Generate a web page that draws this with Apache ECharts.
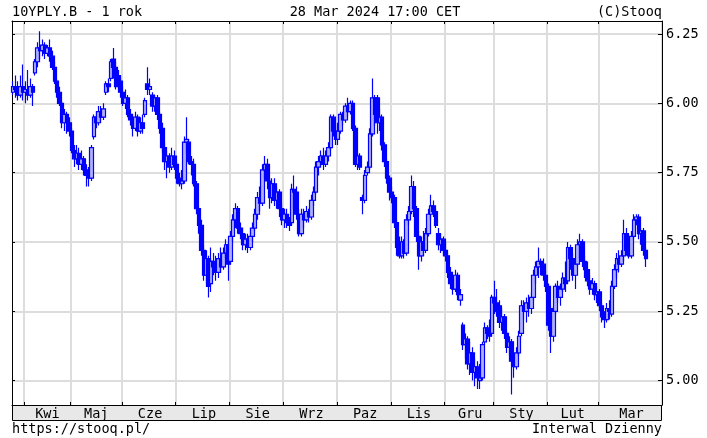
<!DOCTYPE html>
<html><head><meta charset="utf-8">
<script src="https://cdn.jsdelivr.net/npm/echarts@6/dist/echarts.min.js"></script>
<style>html,body{margin:0;padding:0;background:#fff}#c{width:707px;height:438px}</style>
</head><body><div id="c"></div>
<script>
// Daily OHLC of 10YPLY.B, Mar 2023 - Mar 2024
const opens = [
6.04,6.06,6.05,6.03,6.06,6.04,6.05,6.03,6.06,6.11,
6.15,6.20,6.19,6.21,6.18,6.20,6.17,6.13,6.08,6.04,
6.00,5.93,5.96,5.93,5.90,5.83,5.80,5.82,5.78,5.80,
5.76,5.74,5.73,5.88,5.95,5.93,5.97,5.95,6.04,6.07,
6.09,6.16,6.13,6.10,6.08,6.04,6.00,6.02,5.96,5.94,
5.91,5.95,5.90,5.93,5.96,6.07,6.05,6.03,5.99,6.02,
5.96,5.91,5.84,5.79,5.81,5.77,5.81,5.78,5.73,5.71,
5.72,5.86,5.86,5.79,5.78,5.71,5.62,5.56,5.47,5.38,
5.44,5.35,5.43,5.41,5.39,5.44,5.41,5.46,5.49,5.43,
5.52,5.58,5.62,5.55,5.53,5.49,5.51,5.48,5.52,5.55,
5.60,5.66,5.64,5.76,5.78,5.72,5.66,5.71,5.65,5.68,
5.62,5.58,5.60,5.57,5.57,5.69,5.68,5.60,5.53,5.60,
5.58,5.61,5.59,5.65,5.68,5.77,5.79,5.81,5.78,5.81,
5.84,5.95,5.90,5.87,5.90,5.96,5.94,5.99,5.97,6.00,
5.91,5.78,5.81,5.66,5.65,5.75,5.77,5.89,6.02,6.02,
5.93,5.95,5.85,5.79,5.73,5.68,5.66,5.57,5.48,5.45,
5.50,5.46,5.58,5.61,5.70,5.62,5.52,5.45,5.50,5.47,
5.53,5.60,5.63,5.61,5.53,5.49,5.51,5.47,5.45,5.39,
5.35,5.33,5.38,5.29,5.20,5.13,5.15,5.06,5.10,5.03,
5.05,5.00,5.01,5.14,5.19,5.17,5.17,5.30,5.28,5.27,
5.21,5.23,5.17,5.12,5.14,5.07,5.05,5.10,5.17,5.27,
5.25,5.28,5.26,5.30,5.38,5.41,5.43,5.42,5.38,5.34,
5.26,5.16,5.25,5.34,5.30,5.33,5.37,5.36,5.48,5.44,
5.38,5.42,5.49,5.50,5.43,5.40,5.36,5.33,5.35,5.31,
5.32,5.27,5.23,5.22,5.26,5.24,5.34,5.40,5.44,5.42,
5.45,5.53,5.47,5.45,5.52,5.58,5.59,5.53,5.54,5.47
];
const closes = [
6.06,6.05,6.03,6.06,6.04,6.05,6.03,6.06,6.04,6.15,
6.20,6.19,6.21,6.18,6.20,6.17,6.13,6.08,6.04,6.00,
5.93,5.96,5.93,5.90,5.83,5.80,5.82,5.78,5.80,5.76,
5.74,5.73,5.84,5.95,5.93,5.97,5.95,5.98,6.07,6.06,
6.15,6.13,6.06,6.08,6.04,6.00,6.02,5.96,5.94,5.91,
5.95,5.90,5.93,5.91,6.01,6.05,6.06,5.99,6.02,5.96,
5.91,5.84,5.79,5.81,5.77,5.81,5.78,5.73,5.71,5.72,
5.86,5.87,5.79,5.78,5.71,5.62,5.56,5.47,5.38,5.44,
5.34,5.43,5.41,5.39,5.44,5.41,5.46,5.49,5.42,5.52,
5.58,5.62,5.55,5.53,5.49,5.51,5.48,5.52,5.55,5.60,
5.66,5.64,5.76,5.78,5.72,5.66,5.71,5.65,5.68,5.62,
5.58,5.60,5.57,5.56,5.69,5.68,5.60,5.53,5.60,5.58,
5.61,5.59,5.65,5.68,5.77,5.79,5.81,5.78,5.81,5.84,
5.95,5.90,5.87,5.90,5.96,5.94,5.99,5.97,6.00,5.91,
5.78,5.81,5.77,5.65,5.74,5.77,5.89,6.02,5.96,5.93,
5.95,5.85,5.79,5.73,5.68,5.66,5.57,5.48,5.45,5.50,
5.46,5.58,5.61,5.70,5.62,5.52,5.45,5.50,5.47,5.53,
5.60,5.63,5.61,5.56,5.49,5.51,5.47,5.45,5.39,5.35,
5.33,5.38,5.31,5.31,5.13,5.15,5.06,5.10,5.03,5.05,
5.01,5.01,5.13,5.19,5.17,5.16,5.30,5.28,5.25,5.21,
5.23,5.17,5.12,5.14,5.07,5.05,5.10,5.16,5.27,5.25,
5.28,5.26,5.30,5.38,5.41,5.43,5.42,5.38,5.34,5.20,
5.16,5.25,5.34,5.30,5.33,5.37,5.35,5.48,5.44,5.38,
5.42,5.49,5.50,5.43,5.40,5.36,5.33,5.35,5.31,5.32,
5.27,5.23,5.22,5.26,5.25,5.34,5.40,5.44,5.42,5.45,
5.53,5.47,5.45,5.52,5.58,5.59,5.53,5.54,5.47,5.44
];
const lows = [
6.03,6.02,6.01,6.02,6.01,6.00,6.01,6.02,5.99,6.10,
6.13,6.16,6.17,6.16,6.17,6.15,6.12,6.07,6.02,5.99,
5.91,5.90,5.89,5.88,5.82,5.77,5.78,5.76,5.76,5.74,
5.70,5.70,5.72,5.87,5.91,5.92,5.93,5.94,6.03,6.04,
6.08,6.09,6.05,6.05,6.02,5.99,5.98,5.95,5.92,5.88,
5.90,5.88,5.89,5.89,5.95,6.03,6.03,5.97,5.97,5.94,
5.89,5.82,5.76,5.73,5.75,5.76,5.76,5.71,5.70,5.69,
5.71,5.82,5.78,5.74,5.70,5.60,5.53,5.45,5.36,5.35,
5.30,5.32,5.38,5.36,5.37,5.39,5.40,5.44,5.36,5.42,
5.50,5.55,5.53,5.51,5.47,5.47,5.46,5.47,5.50,5.54,
5.58,5.61,5.63,5.73,5.69,5.62,5.64,5.63,5.62,5.59,
5.56,5.55,5.55,5.54,5.56,5.62,5.58,5.52,5.52,5.55,
5.57,5.57,5.58,5.63,5.67,5.74,5.77,5.76,5.77,5.79,
5.83,5.88,5.85,5.85,5.89,5.92,5.93,5.95,5.96,5.90,
5.77,5.76,5.76,5.60,5.64,5.74,5.76,5.88,5.92,5.89,
5.90,5.83,5.77,5.71,5.65,5.64,5.55,5.45,5.44,5.44,
5.44,5.45,5.56,5.60,5.59,5.50,5.40,5.43,5.45,5.46,
5.52,5.58,5.59,5.55,5.47,5.46,5.45,5.43,5.37,5.33,
5.31,5.32,5.29,5.27,5.11,5.08,5.04,5.02,5.00,4.98,
4.97,4.97,5.00,5.13,5.15,5.14,5.16,5.24,5.23,5.19,
5.18,5.15,5.10,5.09,4.95,5.01,5.04,5.09,5.16,5.22,
5.21,5.23,5.24,5.29,5.35,5.37,5.38,5.36,5.32,5.18,
5.10,5.14,5.24,5.28,5.27,5.32,5.32,5.35,5.40,5.36,
5.33,5.41,5.44,5.41,5.37,5.34,5.31,5.31,5.29,5.28,
5.25,5.21,5.19,5.21,5.22,5.23,5.33,5.37,5.39,5.41,
5.43,5.45,5.44,5.44,5.51,5.56,5.51,5.49,5.45,5.41
];
const highs = [
6.08,6.10,6.08,6.10,6.14,6.08,6.12,6.09,6.07,6.16,
6.22,6.26,6.23,6.22,6.21,6.23,6.19,6.15,6.09,6.06,
6.01,5.98,5.97,5.95,5.91,5.85,5.85,5.84,5.83,5.81,
5.78,5.77,5.85,5.96,5.97,5.99,5.99,6.00,6.08,6.09,
6.16,6.20,6.15,6.12,6.09,6.06,6.05,6.03,5.98,5.96,
5.97,5.96,5.95,5.96,6.02,6.13,6.09,6.04,6.03,6.03,
5.97,5.93,5.86,5.83,5.82,5.84,5.83,5.79,5.75,5.76,
5.88,5.95,5.87,5.81,5.80,5.72,5.63,5.58,5.49,5.47,
5.45,5.48,5.46,5.45,5.46,5.48,5.48,5.51,5.50,5.54,
5.60,5.64,5.63,5.57,5.55,5.53,5.53,5.55,5.57,5.62,
5.68,5.70,5.78,5.81,5.80,5.73,5.73,5.73,5.70,5.69,
5.64,5.62,5.62,5.59,5.71,5.74,5.70,5.62,5.62,5.62,
5.63,5.62,5.67,5.70,5.79,5.81,5.83,5.84,5.83,5.86,
5.96,5.96,5.92,5.93,5.97,5.97,6.00,6.02,6.01,6.01,
5.92,5.82,5.82,5.67,5.76,5.79,5.91,6.09,6.03,6.03,
5.98,5.96,5.86,5.80,5.74,5.70,5.67,5.58,5.52,5.52,
5.51,5.60,5.63,5.74,5.72,5.63,5.54,5.52,5.54,5.55,
5.62,5.67,5.65,5.62,5.55,5.53,5.52,5.50,5.46,5.41,
5.37,5.40,5.39,5.33,5.21,5.17,5.16,5.14,5.12,5.08,
5.07,5.06,5.14,5.21,5.20,5.22,5.31,5.36,5.33,5.29,
5.26,5.24,5.18,5.16,5.15,5.10,5.12,5.18,5.29,5.29,
5.30,5.31,5.32,5.40,5.43,5.48,5.44,5.44,5.40,5.35,
5.27,5.27,5.35,5.36,5.35,5.39,5.43,5.50,5.49,5.46,
5.44,5.51,5.53,5.51,5.45,5.43,5.38,5.37,5.36,5.34,
5.33,5.28,5.25,5.28,5.29,5.36,5.42,5.46,5.47,5.47,
5.58,5.55,5.50,5.54,5.60,5.60,5.60,5.55,5.55,5.48
];
// Month labels and the trading-day index where each month starts
const monthLabels = ['Kwi','Maj','Cze','Lip','Sie','Wrz','Paz','Lis','Gru','Sty','Lut','Mar'];
const monthStarts = [5, 24, 45, 67, 89, 111, 133, 155, 177, 197, 219, 240];
const slotCount = 266; // trading-day slots on the axis (incl. empty space at right)
const yTicks = [5.00, 5.25, 5.50, 5.75, 6.00, 6.25];
const yMin = 4.912, yMax = 6.297;

const FONT = 'DejaVu Sans Mono';
const FS = 13.5;
const categories = Array.from({length: slotCount}, (_, i) => String(i));
const candles = opens.map((o, i) => [o, closes[i], lows[i], highs[i]]);
const labelAt = {};
monthStarts.forEach((s, m) => {
  const e = m + 1 < monthStarts.length ? monthStarts[m + 1] : slotCount;
  labelAt[Math.round((s + e) / 2 - 0.5)] = monthLabels[m];
});
const startSet = new Set(monthStarts);
const black = {color: '#000', width: 1};
const gridLine = {color: '#dddddd', width: 2};
const txtFont = FS + 'px "DejaVu Sans Mono"';

const chart = echarts.init(document.getElementById('c'), null, {renderer: 'canvas'});
chart.setOption({
  animation: false,
  backgroundColor: '#fff',
  grid: {left: 12, right: 45, top: 21, bottom: 33},
  xAxis: [
    {
      type: 'category', data: categories, position: 'bottom', boundaryGap: true,
      axisLine: {show: true, lineStyle: black},
      axisTick: {show: true, inside: true, length: 3, interval: (i) => startSet.has(i), lineStyle: black},
      axisLabel: {show: true, interval: (i) => labelAt[i] !== undefined,
        formatter: (v, i) => labelAt[i] || '', margin: 2, color: '#000', fontFamily: FONT, fontSize: FS},
      splitLine: {show: true, interval: (i) => startSet.has(i), lineStyle: gridLine}
    },
    {
      type: 'category', data: categories, position: 'top', boundaryGap: true,
      axisLine: {show: true, lineStyle: black},
      axisTick: {show: true, inside: true, length: 3, interval: (i) => startSet.has(i), lineStyle: black},
      axisLabel: {show: false}, splitLine: {show: false}
    }
  ],
  yAxis: [
    {
      type: 'value', position: 'right', min: yMin, max: yMax,
      axisLine: {show: true, lineStyle: black},
      axisTick: {show: true, inside: true, length: 4, customValues: yTicks, lineStyle: black},
      axisLabel: {show: true, customValues: yTicks, formatter: (v) => v.toFixed(2),
        margin: 4, color: '#000', fontFamily: FONT, fontSize: FS},
      splitLine: {show: true, lineStyle: gridLine}
    },
    {
      type: 'value', position: 'left', min: yMin, max: yMax,
      axisLine: {show: true, lineStyle: black},
      axisTick: {show: true, inside: true, length: 3, customValues: yTicks, lineStyle: black},
      axisLabel: {show: false}, splitLine: {show: false}
    }
  ],
  series: [{
    type: 'candlestick', xAxisIndex: 0, yAxisIndex: 0,
    data: candles, barWidth: 4, silent: true,
    itemStyle: {color: '#b0b0ff', color0: '#0000ff', borderColor: '#0000ff', borderColor0: '#0000ff', borderWidth: 1.2}
  }],
  graphic: [
    {type: 'rect', z: -1, shape: {x: 12.5, y: 405.5, width: 649, height: 15},
      style: {fill: '#e8e8e8', stroke: '#000', lineWidth: 1}},
    {type: 'text', x: 12, y: 12.5, style: {text: '10YPLY.B - 1 rok', font: txtFont, fill: '#000', align: 'left', verticalAlign: 'middle'}},
    {type: 'text', x: 375, y: 12.5, style: {text: '28 Mar 2024 17:00 CET', font: txtFont, fill: '#000', align: 'center', verticalAlign: 'middle'}},
    {type: 'text', x: 662, y: 12.5, style: {text: '(C)Stooq', font: txtFont, fill: '#000', align: 'right', verticalAlign: 'middle'}},
    {type: 'text', x: 12, y: 429.5, style: {text: 'https://stooq.pl/', font: txtFont, fill: '#000', align: 'left', verticalAlign: 'middle'}},
    {type: 'text', x: 662, y: 429.5, style: {text: 'Interwal Dzienny', font: txtFont, fill: '#000', align: 'right', verticalAlign: 'middle'}}
  ]
});
</script>
</body></html>
